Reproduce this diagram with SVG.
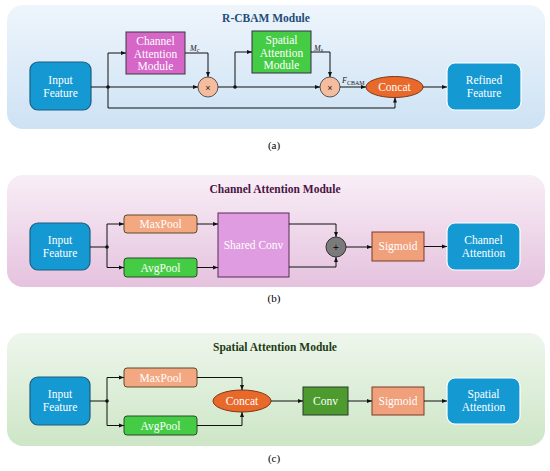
<svg xmlns="http://www.w3.org/2000/svg" width="550" height="471" viewBox="0 0 550 471">
<defs>
<linearGradient id="gA" x1="0" y1="0" x2="0" y2="1"><stop offset="0" stop-color="#eef5fc"/><stop offset="1" stop-color="#cde2f4"/></linearGradient>
<linearGradient id="gB" x1="0" y1="0" x2="0" y2="1"><stop offset="0" stop-color="#f8eef6"/><stop offset="1" stop-color="#e5c2de"/></linearGradient>
<linearGradient id="gC" x1="0" y1="0" x2="0" y2="1"><stop offset="0" stop-color="#eef6ec"/><stop offset="1" stop-color="#cde6c6"/></linearGradient>
<marker id="ar" viewBox="0 0 10 10" refX="10" refY="5" markerWidth="5" markerHeight="5" orient="auto" markerUnits="userSpaceOnUse"><path d="M0,1 L10,5 L0,9 z" fill="#111"/></marker>
</defs>
<style>
.t{font-family:"Liberation Serif","Times New Roman",serif;fill:#fff;font-size:11.5px;text-anchor:middle}
.ttl{font-family:"Liberation Serif","Times New Roman",serif;font-weight:bold;font-size:11.5px;text-anchor:middle}
.cap{font-family:"Liberation Serif","Times New Roman",serif;font-size:11px;text-anchor:middle;fill:#000}
.lbl{font-family:"Liberation Serif","Times New Roman",serif;font-style:italic;font-size:8px;fill:#222}
.blue{fill:#1599d3;stroke:#1c5f82;stroke-width:1.2}
.blueW{fill:#1599d3;stroke:#fff;stroke-width:1.2}
.c path,.c line,.c polyline{fill:none;stroke:#111;stroke-width:1}
.dot{fill:#111}
</style>

<rect x="7" y="5" width="538" height="124" rx="16" fill="url(#gA)"/>
<rect x="7" y="175" width="538" height="112" rx="16" fill="url(#gB)"/>
<rect x="7" y="333" width="538" height="113" rx="16" fill="url(#gC)"/>

<text class="ttl" x="266" y="22" fill="#1f4e79">R-CBAM Module</text>
<text class="ttl" x="275" y="193" fill="#4a1444">Channel Attention Module</text>
<text class="ttl" x="275" y="351" fill="#1d3d14">Spatial Attention Module</text>

<text class="cap" x="274" y="149">(a)</text>
<text class="cap" x="274" y="302">(b)</text>
<text class="cap" x="274" y="462">(c)</text>

<!-- Panel (a) -->
<g id="a_input"><rect class="blue" x="30" y="62" width="61" height="48" rx="8"/><text class="t" x="60.5" y="84">Input</text><text class="t" x="60.5" y="97">Feature</text></g>
<g id="a_cam"><rect x="126" y="32" width="59" height="42" fill="#d766c9" stroke="#3a3a3a" stroke-width="1"/><text class="t" x="155.5" y="45">Channel</text><text class="t" x="155.5" y="57.5">Attention</text><text class="t" x="155.5" y="70">Module</text></g>
<g id="a_mul1"><circle cx="208" cy="87" r="10" fill="#f5bd9e" stroke="#555" stroke-width="1"/><text x="208" y="90.5" font-family="Liberation Sans,Arial,sans-serif" font-size="9" text-anchor="middle" fill="#222">×</text></g>
<g id="a_sam"><rect x="252" y="31" width="59" height="42" fill="#45cc45" stroke="#3a2a4a" stroke-width="1"/><text class="t" x="281.5" y="44">Spatial</text><text class="t" x="281.5" y="56.5">Attention</text><text class="t" x="281.5" y="69">Module</text></g>
<g id="a_mul2"><circle cx="330" cy="87" r="10" fill="#f5bd9e" stroke="#555" stroke-width="1"/><text x="330" y="90.5" font-family="Liberation Sans,Arial,sans-serif" font-size="9" text-anchor="middle" fill="#222">×</text></g>
<g id="a_concat"><ellipse cx="394.5" cy="87" rx="28.5" ry="10.5" fill="#e8692a" stroke="#7a3a1a" stroke-width="1"/><text class="t" x="394.5" y="91">Concat</text></g>
<g id="a_refined"><rect class="blueW" x="447" y="63" width="74" height="47" rx="8"/><text class="t" x="484" y="84">Refined</text><text class="t" x="484" y="97">Feature</text></g>
<text class="lbl" x="190" y="51">M<tspan font-size="6" dy="1">c</tspan></text>
<text class="lbl" x="314" y="51">M<tspan font-size="6" dy="1">s</tspan></text>
<text class="lbl" x="342" y="83">F<tspan font-size="6" dy="1.5" font-style="normal">CBAM</tspan></text>

<!-- Panel (b) -->
<g id="b_input"><rect class="blue" x="30" y="223" width="60" height="47" rx="8"/><text class="t" x="60" y="243.5">Input</text><text class="t" x="60" y="256.5">Feature</text></g>
<g id="b_max"><rect x="124" y="215" width="73" height="18" rx="3" fill="#f4a882" stroke="#5a4a2a" stroke-width="1"/><text class="t" x="160.5" y="228">MaxPool</text></g>
<g id="b_avg"><rect x="124" y="258" width="73" height="19" rx="3" fill="#45cc45" stroke="#2a4a2a" stroke-width="1"/><text class="t" x="160.5" y="271.5">AvgPool</text></g>
<g id="b_shared"><rect x="218" y="213" width="71" height="64" fill="#e09ce0" stroke="#5a2a5a" stroke-width="1"/><text class="t" x="253.5" y="249">Shared Conv</text></g>
<g id="b_add"><circle cx="336" cy="247" r="10" fill="#7a7a7a" stroke="#333" stroke-width="1"/><text x="336" y="250.5" font-family="Liberation Sans,Arial,sans-serif" font-size="10" text-anchor="middle" fill="#111">+</text></g>
<g id="b_sig"><rect x="372" y="232" width="52" height="29" fill="#f0a07a" stroke="#7a3a2a" stroke-width="1"/><text class="t" x="398" y="250">Sigmoid</text></g>
<g id="b_out"><rect class="blueW" x="447" y="223" width="73" height="47" rx="8"/><text class="t" x="483.5" y="243.5">Channel</text><text class="t" x="483.5" y="256.5">Attention</text></g>

<!-- Panel (c) -->
<g id="c_input"><rect class="blue" x="30" y="377" width="60" height="48" rx="8"/><text class="t" x="60" y="398">Input</text><text class="t" x="60" y="411">Feature</text></g>
<g id="c_max"><rect x="124" y="368" width="73" height="19" rx="3" fill="#f4a882" stroke="#5a4a2a" stroke-width="1"/><text class="t" x="160.5" y="381.5">MaxPool</text></g>
<g id="c_avg"><rect x="124" y="416" width="73" height="19" rx="3" fill="#45cc45" stroke="#2a4a2a" stroke-width="1"/><text class="t" x="160.5" y="429.5">AvgPool</text></g>
<g id="c_concat"><ellipse cx="242" cy="401" rx="29" ry="11" fill="#e8692a" stroke="#7a3a1a" stroke-width="1"/><text class="t" x="242" y="405">Concat</text></g>
<g id="c_conv"><rect x="303" y="387" width="45" height="28" fill="#4d9b2f" stroke="#2a3a2a" stroke-width="1"/><text class="t" x="325.5" y="405">Conv</text></g>
<g id="c_sig"><rect x="372" y="387" width="52" height="28" fill="#f0a07a" stroke="#7a3a2a" stroke-width="1"/><text class="t" x="398" y="405">Sigmoid</text></g>
<g id="c_out"><rect class="blueW" x="447" y="378" width="73" height="46" rx="8"/><text class="t" x="483.5" y="398">Spatial</text><text class="t" x="483.5" y="411">Attention</text></g>

<g id="connectors" class="c">
<!-- a -->
<line x1="91" y1="87" x2="198" y2="87" marker-end="url(#ar)"/>
<polyline points="108,87 108,53 126,53" marker-end="url(#ar)"/>
<polyline points="185,53 208,53 208,77" marker-end="url(#ar)"/>
<polyline points="108,87 108,108 395,108 395,97.5" marker-end="url(#ar)"/>
<line x1="218" y1="87" x2="320" y2="87" marker-end="url(#ar)"/>
<polyline points="235,87 235,52 252,52" marker-end="url(#ar)"/>
<polyline points="311,52 330,52 330,77" marker-end="url(#ar)"/>
<line x1="340" y1="87" x2="366" y2="87" marker-end="url(#ar)"/>
<line x1="423" y1="87" x2="447" y2="87" marker-end="url(#ar)"/>
<!-- b -->
<line x1="90" y1="247" x2="107" y2="247"/>
<polyline points="107,247 107,224 124,224" marker-end="url(#ar)"/>
<polyline points="107,247 107,267.5 124,267.5" marker-end="url(#ar)"/>
<line x1="197" y1="224" x2="218" y2="224" marker-end="url(#ar)"/>
<line x1="197" y1="267.5" x2="218" y2="267.5" marker-end="url(#ar)"/>
<polyline points="289,224 336,224 336,237" marker-end="url(#ar)"/>
<polyline points="289,267 336,267 336,257" marker-end="url(#ar)"/>
<line x1="346" y1="247" x2="372" y2="247" marker-end="url(#ar)"/>
<line x1="424" y1="246.5" x2="447" y2="246.5" marker-end="url(#ar)"/>
<!-- c -->
<line x1="90" y1="401" x2="107" y2="401"/>
<polyline points="107,401 107,377.5 124,377.5" marker-end="url(#ar)"/>
<polyline points="107,401 107,425.5 124,425.5" marker-end="url(#ar)"/>
<polyline points="197,377.5 242,377.5 242,390" marker-end="url(#ar)"/>
<polyline points="197,425.5 242,425.5 242,412" marker-end="url(#ar)"/>
<line x1="271" y1="401" x2="303" y2="401" marker-end="url(#ar)"/>
<line x1="348" y1="401" x2="372" y2="401" marker-end="url(#ar)"/>
<line x1="424" y1="401" x2="447" y2="401" marker-end="url(#ar)"/>
<circle class="dot" cx="108" cy="87" r="1.8"/>
<circle class="dot" cx="235" cy="87" r="1.8"/>
<circle class="dot" cx="107" cy="247" r="1.8"/>
<circle class="dot" cx="107" cy="401" r="1.8"/>
</g>
</svg>
